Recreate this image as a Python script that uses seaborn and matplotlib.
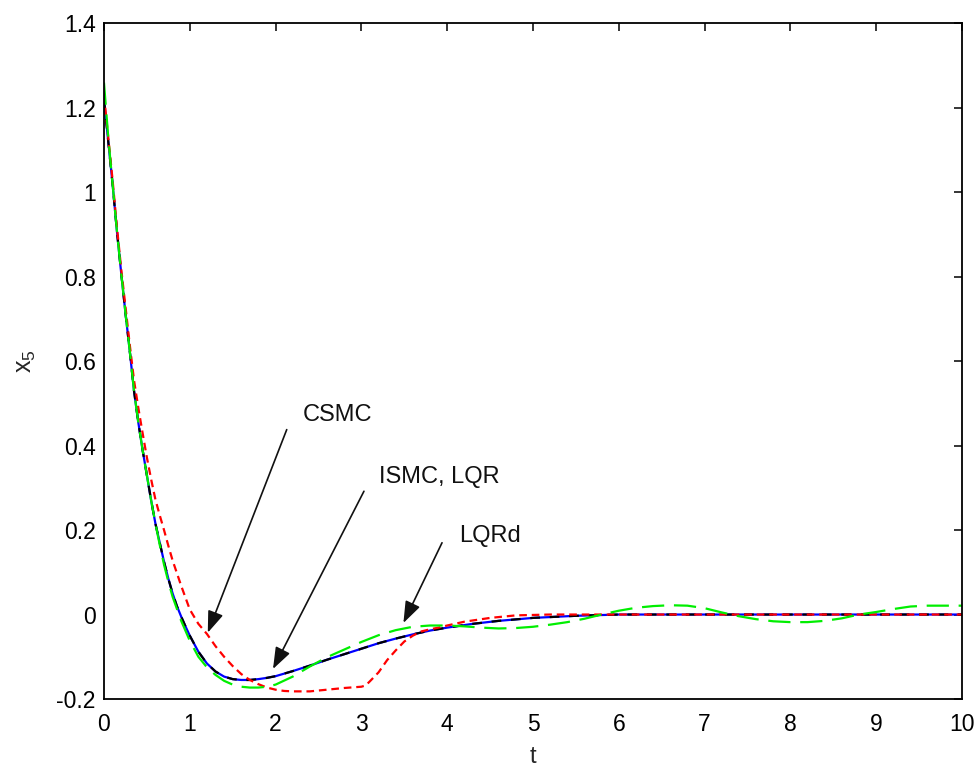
import matplotlib
matplotlib.use("Agg")
import matplotlib.pyplot as plt
import seaborn as sns
import pandas as pd

# ---------------- data ----------------
t_ref = [0, 0.05, 0.1, 0.15, 0.2, 0.25, 0.3, 0.35, 0.4, 0.45, 0.5, 0.55, 0.6, 0.65,
         0.7, 0.75, 0.8, 0.85, 0.9, 0.95, 1.0, 1.1, 1.2, 1.3, 1.4, 1.5, 1.6, 1.7, 1.8,
         1.9, 2.0, 2.2, 2.4, 2.6, 2.8, 3.0, 3.2, 3.4, 3.6, 3.8, 4.0, 4.3, 4.6, 5.0,
         5.5, 6.0, 7.0, 8.0, 9.0, 10.0]
x5_lqr = [1.22, 1.12, 1.02, 0.91, 0.81, 0.715, 0.625, 0.53, 0.455, 0.39, 0.33, 0.27,
          0.215, 0.17, 0.125, 0.085, 0.05, 0.02, -0.005, -0.028, -0.05, -0.088, -0.116,
          -0.135, -0.147, -0.153, -0.155, -0.155, -0.153, -0.15, -0.146, -0.134, -0.121,
          -0.107, -0.094, -0.081, -0.068, -0.057, -0.047, -0.038, -0.031, -0.022, -0.015,
          -0.008, -0.003, 0.0, 0.0, 0.0, 0.0, 0.0]
x5_ismc = [1.22, 1.12, 1.02, 0.91, 0.81, 0.715, 0.625, 0.53, 0.455, 0.39, 0.33, 0.27,
           0.215, 0.17, 0.125, 0.085, 0.05, 0.02, -0.005, -0.028, -0.05, -0.088, -0.116,
           -0.135, -0.147, -0.153, -0.155, -0.155, -0.153, -0.15, -0.146, -0.134, -0.121,
           -0.107, -0.094, -0.081, -0.068, -0.057, -0.047, -0.038, -0.031, -0.022, -0.015,
           -0.008, -0.003, 0.0, 0.0, 0.0, 0.0, 0.0]

t_csmc = [0, 0.05, 0.1, 0.15, 0.2, 0.25, 0.3, 0.35, 0.4, 0.45, 0.5, 0.55, 0.6, 0.65,
          0.7, 0.75, 0.8, 0.85, 0.9, 0.95, 1.0, 1.1, 1.2, 1.3, 1.4, 1.5, 1.6, 1.7, 1.8,
          1.9, 2.0, 2.1, 2.2, 2.4, 2.6, 2.8, 3.0, 3.05, 3.1, 3.2, 3.3, 3.4, 3.5, 3.6,
          3.7, 3.8, 3.9, 4.0, 4.2, 4.5, 4.8, 5.2, 6.0, 7.0, 8.0, 9.0, 10.0]
x5_csmc = [1.23, 1.13, 1.03, 0.92, 0.82, 0.73, 0.64, 0.555, 0.49, 0.43, 0.372, 0.32,
           0.272, 0.235, 0.2, 0.163, 0.128, 0.098, 0.068, 0.04, 0.012, -0.022, -0.046,
           -0.075, -0.1, -0.122, -0.141, -0.155, -0.165, -0.173, -0.178, -0.181, -0.182,
           -0.182, -0.178, -0.174, -0.171, -0.168, -0.158, -0.137, -0.108, -0.085,
           -0.064, -0.05, -0.04, -0.035, -0.031, -0.026, -0.017, -0.008, -0.002, 0.0,
           0.0, 0.0, 0.0, 0.0, 0.0]

t_lqrd = [0, 0.05, 0.1, 0.15, 0.2, 0.25, 0.3, 0.35, 0.4, 0.45, 0.5, 0.55, 0.6, 0.65,
          0.7, 0.75, 0.8, 0.9, 1.0, 1.1, 1.2, 1.3, 1.4, 1.5, 1.6, 1.7, 1.8, 1.9, 2.0,
          2.2, 2.4, 2.6, 2.8, 3.0, 3.2, 3.4, 3.6, 3.8, 4.0, 4.2, 4.4, 4.6, 4.8, 5.0,
          5.2, 5.4, 5.6, 5.8, 6.0, 6.2, 6.4, 6.6, 6.8, 7.0, 7.2, 7.4, 7.6, 7.8, 8.0,
          8.2, 8.4, 8.6, 8.8, 9.0, 9.2, 9.4, 9.6, 9.8, 10.0]
x5_lqrd = [1.26, 1.13, 1.02, 0.91, 0.81, 0.715, 0.625, 0.53, 0.455, 0.39, 0.33, 0.27,
           0.215, 0.165, 0.118, 0.078, 0.042, -0.015, -0.062, -0.1, -0.125, -0.143,
           -0.157, -0.166, -0.171, -0.173, -0.173, -0.171, -0.166, -0.147, -0.123,
           -0.101, -0.083, -0.065, -0.049, -0.037, -0.029, -0.026, -0.026, -0.028,
           -0.031, -0.033, -0.032, -0.029, -0.024, -0.018, -0.01, 0.0, 0.009, 0.016,
           0.02, 0.022, 0.021, 0.015, 0.005, -0.004, -0.011, -0.016, -0.018, -0.018,
           -0.015, -0.009, 0.0, 0.006, 0.013, 0.019, 0.021, 0.021, 0.021]

x_ticks = [0, 1, 2, 3, 4, 5, 6, 7, 8, 9, 10]
y_ticks = [-0.2, 0, 0.2, 0.4, 0.6, 0.8, 1, 1.2, 1.4]
y_tick_labels = ["-0.2", "0", "0.2", "0.4", "0.6", "0.8", "1", "1.2", "1.4"]

annotations = [
    ("CSMC", (2.32, 0.472), (2.13, 0.438), (1.21, -0.043)),
    ("ISMC, LQR", (3.21, 0.325), (3.03, 0.292), (1.97, -0.129)),
    ("LQRd", (4.14, 0.187), (3.94, 0.170), (3.49, -0.020)),
]

# ---------------- style ----------------
sns.set_style("white")
plt.rcParams["font.family"] = ["Liberation Sans", "DejaVu Sans"]
plt.rcParams["lines.scale_dashes"] = False

fig = plt.figure(figsize=(9.8, 7.67), dpi=100)
ax = fig.add_axes([0.1061, 0.0887, 0.8755, 0.8807])

df_lqr = pd.DataFrame({"t": t_ref, "x5": x5_lqr})
df_ismc = pd.DataFrame({"t": t_ref, "x5": x5_ismc})
df_csmc = pd.DataFrame({"t": t_csmc, "x5": x5_csmc})
df_lqrd = pd.DataFrame({"t": t_lqrd, "x5": x5_lqrd})

# ISMC (blue, solid) underneath, LQR (black, dashed) on top
sns.lineplot(data=df_ismc, x="t", y="x5", ax=ax, color="#0000ff", lw=1.6,
             sort=False, estimator=None)
sns.lineplot(data=df_lqr, x="t", y="x5", ax=ax, color="black", lw=1.6,
             sort=False, estimator=None)
ax.lines[-1].set_dashes([7, 7])
sns.lineplot(data=df_csmc, x="t", y="x5", ax=ax, color="#ff0000", lw=1.6,
             sort=False, estimator=None)
ax.lines[-1].set_dashes([5.5, 3.5])
sns.lineplot(data=df_lqrd, x="t", y="x5", ax=ax, color="#00ee00", lw=1.6,
             sort=False, estimator=None)
ax.lines[-1].set_dashes([16, 7])

for label, tpos, tail, tip in annotations:
    ax.text(tpos[0], tpos[1], label, fontsize=17, ha="left", va="center",
            color="#111111")
    ax.annotate("", xy=tip, xytext=tail,
                arrowprops=dict(arrowstyle="-|>,head_length=0.6,head_width=0.22",
                                mutation_scale=22, color="#111111", lw=1.2,
                                shrinkA=0, shrinkB=0))

ax.set_xlim(0, 10)
ax.set_ylim(-0.2, 1.4)
ax.set_xticks(x_ticks)
ax.set_yticks(y_ticks)
ax.set_yticklabels(y_tick_labels)
ax.tick_params(direction="in", length=6, width=1.1, labelsize=16.5,
               top=True, right=True, colors="black")
ax.tick_params(axis="x", pad=10)
ax.tick_params(axis="y", pad=6)
for sp in ax.spines.values():
    sp.set_visible(True)
    sp.set_linewidth(1.3)
    sp.set_color("black")

ax.set_xlabel("t", fontsize=17, labelpad=7)
ax.set_ylabel(r"$\mathregular{x_5}$", fontsize=18, labelpad=13)

fig.savefig("out.png", dpi=100, facecolor="white")
